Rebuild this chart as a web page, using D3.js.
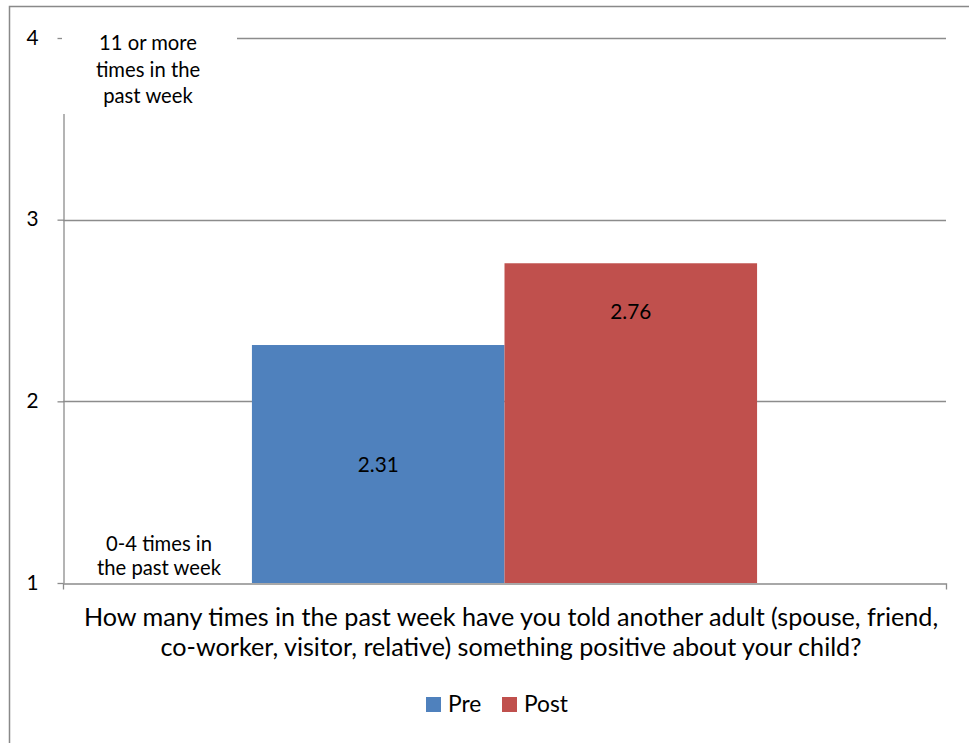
<!DOCTYPE html>
<html><head><meta charset="utf-8">
<script src="https://cdn.jsdelivr.net/npm/d3@7"></script>
<style>body{margin:0;background:#fff}svg{display:block;font-family:"Lato","Open Sans",sans-serif}</style>
</head><body><svg id="c" width="969" height="743"></svg>
<script>
const categories = ["How many times in the past week have you told another adult (spouse, friend, co-worker, visitor, relative) something positive about your child?"];
const seriesNames = ["Pre", "Post"];
const seriesValues = [2.31, 2.76];
const seriesColors = ["#4F81BD", "#C0504D"];
const yTicks = [1, 2, 3, 4];
const topLabel = ["11 or more", "times in the", "past week"];
const bottomLabel = ["0-4 times in", "the past week"];
const titleLines = ["How many times in the past week have you told another adult (spouse, friend,", "co-worker, visitor, relative) something positive about your child?"];

const svg = d3.select("#c");
// fit a font size so that a given text spans a target width
function fitSize(text, target) {
  const t = svg.append("text").attr("font-size", 20).text(text);
  const w = t.node().getComputedTextLength();
  t.remove();
  return 20 * target / w;
}
const titleSize = fitSize(titleLines[0], 855);
const noteSize = fitSize(topLabel[0], 98);
const legSize = fitSize("Post", 44);
const numSize = fitSize("2.31", 41);

// outer border
svg.append("rect").attr("x", 9.5).attr("y", 6.5).attr("width", 980).attr("height", 760)
  .attr("fill", "none").attr("stroke", "#898989").attr("stroke-width", 1.5);

const x0 = 63, x1 = 946;
const y = d3.scaleLinear().domain([1, 4]).range([583, 38]);
const xBand = d3.scaleBand().domain(categories).range([x0, x1]).paddingInner(0).paddingOuter(0.374);
const xSeries = d3.scaleBand().domain(seriesNames).range([0, xBand.bandwidth()]);

// gridlines
svg.append("g").selectAll("line").data(yTicks.filter(d => d > 1)).join("line")
  .attr("x1", x0).attr("x2", x1).attr("y1", d => Math.round(y(d)) + 0.5).attr("y2", d => Math.round(y(d)) + 0.5)
  .attr("stroke", "#8c8c8c").attr("stroke-width", 1.3);

// y axis
const yAxis = d3.axisLeft(y).tickValues(yTicks).tickSize(6).tickSizeOuter(0).tickFormat(d3.format("d"));
const gy = svg.append("g").attr("transform", `translate(${x0 + 0.5},0)`).call(yAxis);
gy.select(".domain").attr("stroke", "#8c8c8c").attr("stroke-width", 1.3);
gy.selectAll(".tick line").attr("stroke", "#8c8c8c").attr("stroke-width", 1.3);
gy.selectAll(".tick text").attr("x", -31).attr("dy", "0.3em").attr("font-size", numSize).attr("fill", "#000")
  .attr("font-family", "Lato,sans-serif").attr("text-anchor", "middle");

// x axis baseline
const xAxis = d3.axisBottom(xBand).tickSize(0).tickSizeOuter(6).tickFormat("");
const gx = svg.append("g").attr("transform", `translate(0,${Math.round(y(1)) + 0.5})`).call(xAxis);
gx.select(".domain").attr("stroke", "#8c8c8c").attr("stroke-width", 1.3);

// bars
const g = svg.append("g").attr("transform", `translate(${xBand(categories[0])},0)`);
g.selectAll("rect").data(seriesNames).join("rect")
  .attr("x", d => xSeries(d)).attr("width", xSeries.bandwidth())
  .attr("y", (d, i) => y(seriesValues[i])).attr("height", (d, i) => y(1) - y(seriesValues[i]))
  .attr("fill", (d, i) => seriesColors[i]);

// data labels
g.selectAll("text.dl").data(seriesNames).join("text").attr("class", "dl")
  .attr("x", d => xSeries(d) + xSeries.bandwidth() / 2)
  .attr("y", (d, i) => i === 0 ? (y(seriesValues[i]) + y(1)) / 2 + 8 : y(seriesValues[i]) + 56)
  .attr("text-anchor", "middle").attr("font-size", numSize).attr("fill", "#000")
  .text((d, i) => seriesValues[i].toFixed(2));

// label boxes (white background covering axis)
svg.append("rect").attr("x", 62).attr("y", 30).attr("width", 175).attr("height", 84).attr("fill", "#fff");
svg.append("rect").attr("x", 71).attr("y", 528).attr("width", 176).attr("height", 54).attr("fill", "#fff");

svg.append("g").selectAll("text").data(topLabel).join("text")
  .attr("x", 148).attr("y", (d, i) => 50 + i * 26.5).attr("text-anchor", "middle")
  .attr("font-size", noteSize).attr("fill", "#000").text(d => d);
svg.append("g").selectAll("text").data(bottomLabel).join("text")
  .attr("x", 159).attr("y", (d, i) => 551 + i * 24).attr("text-anchor", "middle")
  .attr("font-size", noteSize).attr("fill", "#000").text(d => d);

// axis title
svg.append("g").selectAll("text").data(titleLines).join("text")
  .attr("x", 511).attr("y", (d, i) => 626 + i * 30).attr("text-anchor", "middle")
  .attr("font-size", titleSize).attr("fill", "#000").text(d => d);

// legend
const legX = [426, 502];
const lg = svg.append("g").selectAll("g").data(seriesNames).join("g")
  .attr("transform", (d, i) => `translate(${legX[i]},697)`);
lg.append("rect").attr("width", 15).attr("height", 15).attr("fill", (d, i) => seriesColors[i]);
lg.append("text").attr("x", 22).attr("y", 15).attr("font-size", legSize).attr("fill", "#000").text(d => d);
</script></body></html>
